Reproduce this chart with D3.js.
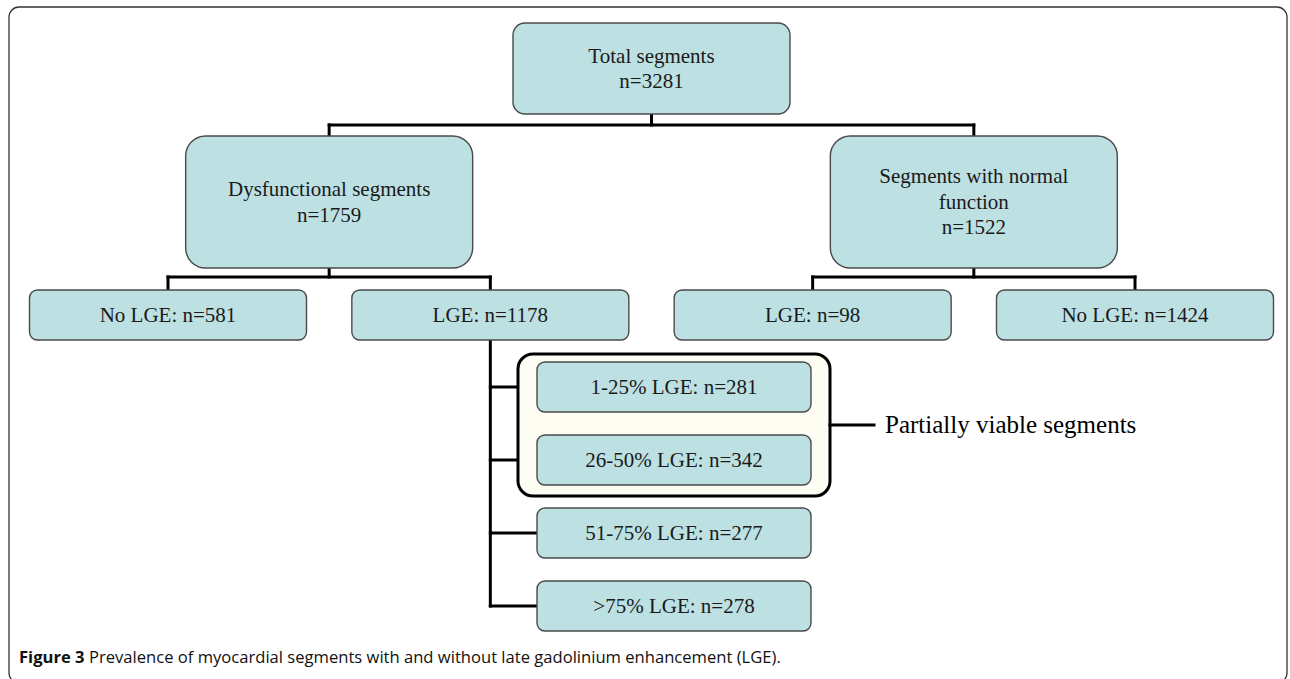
<!DOCTYPE html>
<html><head><meta charset="utf-8">
<script src="https://cdn.jsdelivr.net/npm/d3@7"></script>
<style>body{margin:0;background:#fff}svg{display:block}</style>
</head><body>
<svg id="c" width="1290" height="679"></svg>
<script>
// ---- data ----
const rootLabel = ["Total segments"]; const rootN = [3281];
const level2Labels = [["Dysfunctional segments"], ["Segments with normal", "function"]];
const level2N = [1759, 1522];
const level3Labels = ["No LGE", "LGE", "LGE", "No LGE"];
const level3N = [581, 1178, 98, 1424];
const lgeLabels = ["1-25% LGE", "26-50% LGE", "51-75% LGE", ">75% LGE"];
const lgeN = [281, 342, 277, 278];
const partialGroup = [0, 1];
const groupLabel = "Partially viable segments";
const captionBold = "Figure 3";
const captionText = " Prevalence of myocardial segments with and without late gadolinium enhancement (LGE).";

// ---- layout ----
const svg = d3.select("#c");
const FILL = "#bde0e3", STROKE = "#4a4a4a", SERIF = "'Liberation Serif','Times New Roman',serif";

svg.append("rect").attr("x", 9).attr("y", 7).attr("width", 1278).attr("height", 676)
  .attr("rx", 10).attr("fill", "none").attr("stroke", "#333").attr("stroke-width", 1.3);

const x3 = d3.scalePoint().domain(d3.range(4)).range([168, 1135]);
const x2 = i => (x3(2 * i) + x3(2 * i + 1)) / 2;
const xRoot = (x2(0) + x2(1)) / 2;
const ySub = d3.scalePoint().domain(d3.range(lgeN.length)).range([387, 606]);

function box(g, cx, cy, w, h, r, lines, fs) {
  g.append("rect").attr("x", cx - w / 2).attr("y", cy - h / 2).attr("width", w).attr("height", h)
    .attr("rx", r).attr("fill", FILL).attr("stroke", STROKE).attr("stroke-width", 1.4);
  const lh = 25.5;
  lines.forEach((t, i) => {
    g.append("text").attr("x", cx).attr("y", cy + (i - (lines.length - 1) / 2) * lh)
      .attr("dy", "0.33em").attr("text-anchor", "middle").attr("font-family", SERIF)
      .attr("font-size", fs).attr("fill", "#1a1a1a").text(t);
  });
}
const line = (x1, y1, x2_, y2) => svg.append("line").attr("x1", x1).attr("y1", y1).attr("x2", x2_).attr("y2", y2)
  .attr("stroke", "#000").attr("stroke-width", 3).attr("stroke-linecap", "square");

// connectors
line(xRoot, 114, xRoot, 125);
line(x2(0), 125, x2(1), 125);
[0, 1].forEach(i => { line(x2(i), 125, x2(i), 136); line(x2(i), 268, x2(i), 277); line(x3(2*i), 277, x3(2*i+1), 277); });
level3N.forEach((n, i) => line(x3(i), 277, x3(i), 290));
line(x3(1), 340, x3(1), ySub(lgeN.length - 1));
lgeN.forEach((n, i) => line(x3(1), ySub(i), 537, ySub(i)));

// partial group
const gy0 = ySub(partialGroup[0]) - 33, gy1 = ySub(partialGroup[partialGroup.length - 1]) + 36;
svg.append("rect").attr("x", 518).attr("y", gy0).attr("width", 312).attr("height", gy1 - gy0)
  .attr("rx", 15).attr("fill", "#fdfdf4").attr("stroke", "#000").attr("stroke-width", 3);
line(830, (gy0 + gy1) / 2, 874, (gy0 + gy1) / 2);
svg.append("text").attr("x", 885).attr("y", (gy0 + gy1) / 2).attr("dy", "0.33em")
  .attr("font-family", SERIF).attr("font-size", 25).attr("fill", "#000").text(groupLabel);

// boxes
const g = svg.append("g");
box(g, xRoot, 68.5, 277, 91, 12, [rootLabel[0], "n=" + rootN[0]], 21);
level2N.forEach((n, i) => box(g, x2(i), 202, 287, 132, 20, [...level2Labels[i], "n=" + n], 21));
level3N.forEach((n, i) => box(g, x3(i), 315, 277, 50, 8, [level3Labels[i] + ": n=" + n], 21));
lgeN.forEach((n, i) => box(g, 674, ySub(i), 274, 50, 8, [lgeLabels[i] + ": n=" + n], 21));

// caption
const cap = svg.append("text").attr("x", 19).attr("y", 663).attr("font-family", "'Open Sans',sans-serif")
  .attr("font-size", 16.6).attr("fill", "#111");
cap.append("tspan").attr("font-weight", "bold").text(captionBold);
cap.append("tspan").text(captionText);
</script>
</body></html>
